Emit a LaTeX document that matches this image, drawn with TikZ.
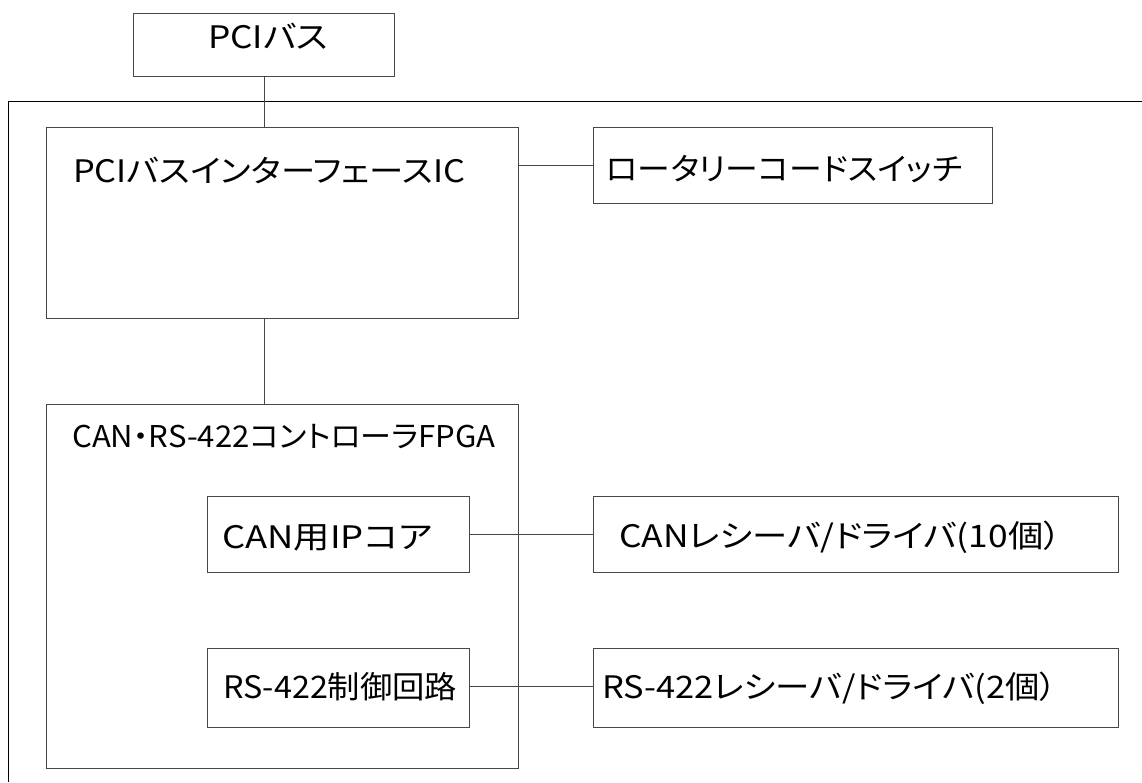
\documentclass[tikz,border=0pt]{standalone}
\usepackage{fontspec}
\usepackage{graphicx}
\setmainfont{Noto Sans CJK JP}[RawFeature=+palt]
\newcommand{\fitw}[2]{\resizebox{#1}{\height}{#2}}
\begin{document}
\begin{tikzpicture}[x=1pt,y=-1pt,
  box/.style={draw=black!72,line width=1pt,rectangle,inner sep=0pt,anchor=north west},
  lbl/.style={inner sep=0pt,anchor=base west,font=\fontsize{31}{33}\selectfont},
  wire/.style={draw=black!72,line width=1pt}]
\useasboundingbox (0,0) rectangle (1142,782);
% board frame
\coordinate (ftr) at (1142,101);
\coordinate (ftl) at (8,101);
\coordinate (fbl) at (8,782);
\draw[line width=1pt] (ftr) -- (ftl) -- (fbl);
% boxes
\node[box,minimum width=261pt,minimum height=63pt] (pci) at (133,13) {};
\node[lbl] (pcit) at (208,48) {\fitw{120pt}{PCIバス}};
\node[box,minimum width=472pt,minimum height=191pt] (ifc) at (46,127) {};
\node[lbl] (ifct) at (73,182) {\fitw{392pt}{PCIバスインターフェースIC}};
\node[box,minimum width=399pt,minimum height=76pt] (rot) at (593,127) {};
\node[lbl] (rott) at (606,180) {\fitw{356pt}{ロータリーコードスイッチ}};
\node[box,minimum width=472pt,minimum height=364pt] (fpga) at (46,404) {};
\node[lbl,font=\fontsize{30}{32}\selectfont] (fpgat) at (72,447) {\fitw{423pt}{CAN・RS-422コントローラFPGA}};
\node[box,minimum width=262pt,minimum height=76pt] (canip) at (207,496) {};
\node[lbl] (canipt) at (222,548) {\fitw{210pt}{CAN用IPコア}};
\node[box,minimum width=262pt,minimum height=79pt] (rsc) at (207,648) {};
\node[lbl] (rsct) at (223,698) {\fitw{234pt}{RS-422制御回路}};
\node[box,minimum width=525pt,minimum height=76pt] (canrx) at (593,496) {};
\node[lbl] (canrxt) at (619,547) {\fitw{442pt}{CANレシーバ/ドライバ(10個）}};
\node[box,minimum width=525pt,minimum height=79pt] (rsrx) at (593,648) {};
\node[lbl] (rsrxt) at (602,698) {\fitw{455pt}{RS-422レシーバ/ドライバ(2個）}};
% connectors
\draw[wire] (pci.south) -- (ifc.north -| pci.south);
\draw[wire] (ifc.east |- rot.west) -- (rot.west);
\draw[wire] (ifc.south -| pci.south) -- (fpga.north -| pci.south);
\draw[wire] (canip.east) -- (canrx.west |- canip.east);
\draw[wire] (rsc.east |- 0,686) -- (rsrx.west |- 0,686);
\end{tikzpicture}
\end{document}
